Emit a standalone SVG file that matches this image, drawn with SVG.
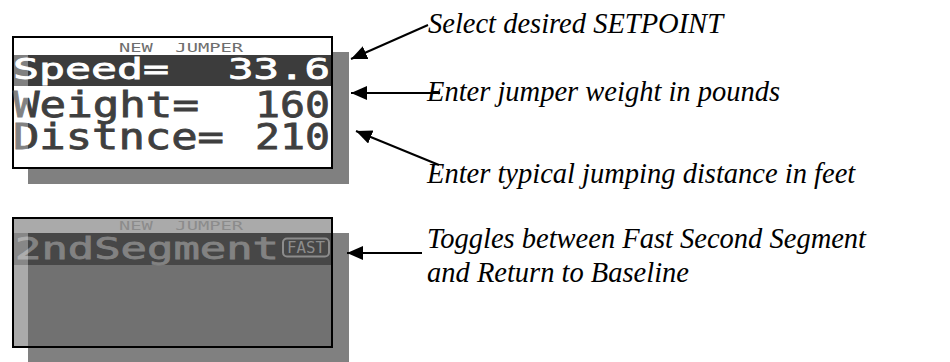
<svg xmlns="http://www.w3.org/2000/svg" width="950" height="362" viewBox="0 0 950 362">
<defs>
<marker id="ah" markerUnits="userSpaceOnUse" markerWidth="18" markerHeight="16" refX="16" refY="7" orient="auto">
<path d="M0,0 L16,7 L0,14 z" fill="#000"/>
</marker>
</defs>
<style>
.lbl{font-family:"Liberation Serif","Times New Roman","DejaVu Serif",serif;font-style:italic;font-size:28.5px;fill:#000}
.lcd{font-family:"DejaVu Sans Mono","Liberation Mono",monospace;font-weight:normal}
.hdr{font-family:"DejaVu Sans Mono","Liberation Mono",monospace;font-size:13px;white-space:pre}
.conn{stroke:#000;stroke-width:2;fill:none;marker-end:url(#ah)}
</style>
<rect width="950" height="362" fill="#fff"/>
<g id="lcd-top">
<rect x="28" y="52" width="321" height="132" fill="#808080"/>
<rect x="13" y="37" width="319" height="131" fill="#fff" stroke="#000" stroke-width="2"/>
<text class="hdr" x="119" y="52" textLength="124" lengthAdjust="spacingAndGlyphs" fill="#6e6e6e" xml:space="preserve">NEW  JUMPER</text>
<rect x="14" y="55" width="317" height="31" fill="#3c3c3c"/>
<text class="lcd" x="13" y="79" font-size="29" textLength="156" lengthAdjust="spacingAndGlyphs" fill="#fff" stroke="#fff" stroke-width="0.8">Speed=</text>
<text class="lcd" x="228" y="79" font-size="29" textLength="102" lengthAdjust="spacingAndGlyphs" fill="#fff" stroke="#fff" stroke-width="0.8">33.6</text>
<text class="lcd" x="13" y="117" font-size="35" textLength="186" lengthAdjust="spacingAndGlyphs" fill="#3f3f3f" stroke="#3f3f3f" stroke-width="0.8">Weight=</text>
<text class="lcd" x="255" y="117" font-size="35" textLength="75" lengthAdjust="spacingAndGlyphs" fill="#3f3f3f" stroke="#3f3f3f" stroke-width="0.8">160</text>
<text class="lcd" x="13" y="149" font-size="35" textLength="211" lengthAdjust="spacingAndGlyphs" fill="#3f3f3f" stroke="#3f3f3f" stroke-width="0.8">Distnce=</text>
<text class="lcd" x="255" y="149" font-size="35" textLength="75" lengthAdjust="spacingAndGlyphs" fill="#3f3f3f" stroke="#3f3f3f" stroke-width="0.8">210</text>
<rect x="14" y="55" width="14" height="95" fill="#fff" opacity="0.35"/>
</g>
<g id="lcd-bottom">
<rect x="28" y="233" width="321" height="129" fill="#808080"/>
<rect x="13" y="218" width="319" height="129" fill="#aaaaaa" stroke="#000" stroke-width="2"/>
<text class="hdr" x="119" y="230" textLength="124" lengthAdjust="spacingAndGlyphs" fill="#8c8c8c" xml:space="preserve">NEW  JUMPER</text>
<rect x="28" y="265" width="303" height="81" fill="#717171"/>
<rect x="14" y="233" width="317" height="32" fill="#474747"/>
<text class="lcd" x="15" y="259" font-size="30" textLength="264" lengthAdjust="spacingAndGlyphs" fill="#828282" stroke="#828282" stroke-width="0.8">2ndSegment</text>
<rect x="283" y="238.5" width="46" height="18" rx="4" fill="none" stroke="#8c8c8c" stroke-width="2"/>
<text class="lcd" x="306" y="253" font-size="15" font-weight="bold" text-anchor="middle" textLength="38" lengthAdjust="spacingAndGlyphs" fill="#8c8c8c">FAST</text>
<rect x="14" y="233" width="14" height="32" fill="#fff" opacity="0.35"/>
</g>
<g id="connectors">
<line class="conn" x1="428" y1="25" x2="351" y2="59"/>
<line class="conn" x1="440" y1="93" x2="351" y2="93"/>
<line class="conn" x1="439" y1="165" x2="356" y2="131"/>
<line class="conn" x1="422" y1="253" x2="347" y2="253"/>
</g>
<g id="label-setpoint"><text class="lbl" x="428" y="33">Select desired SETPOINT</text></g>
<g id="label-weight"><text class="lbl" x="427" y="101">Enter jumper weight in pounds</text></g>
<g id="label-distance"><text class="lbl" x="427" y="183">Enter typical jumping distance in feet</text></g>
<g id="label-toggle">
<text class="lbl" x="427" y="248">Toggles between Fast Second Segment</text>
<text class="lbl" x="427" y="282">and Return to Baseline</text>
</g>
</svg>
